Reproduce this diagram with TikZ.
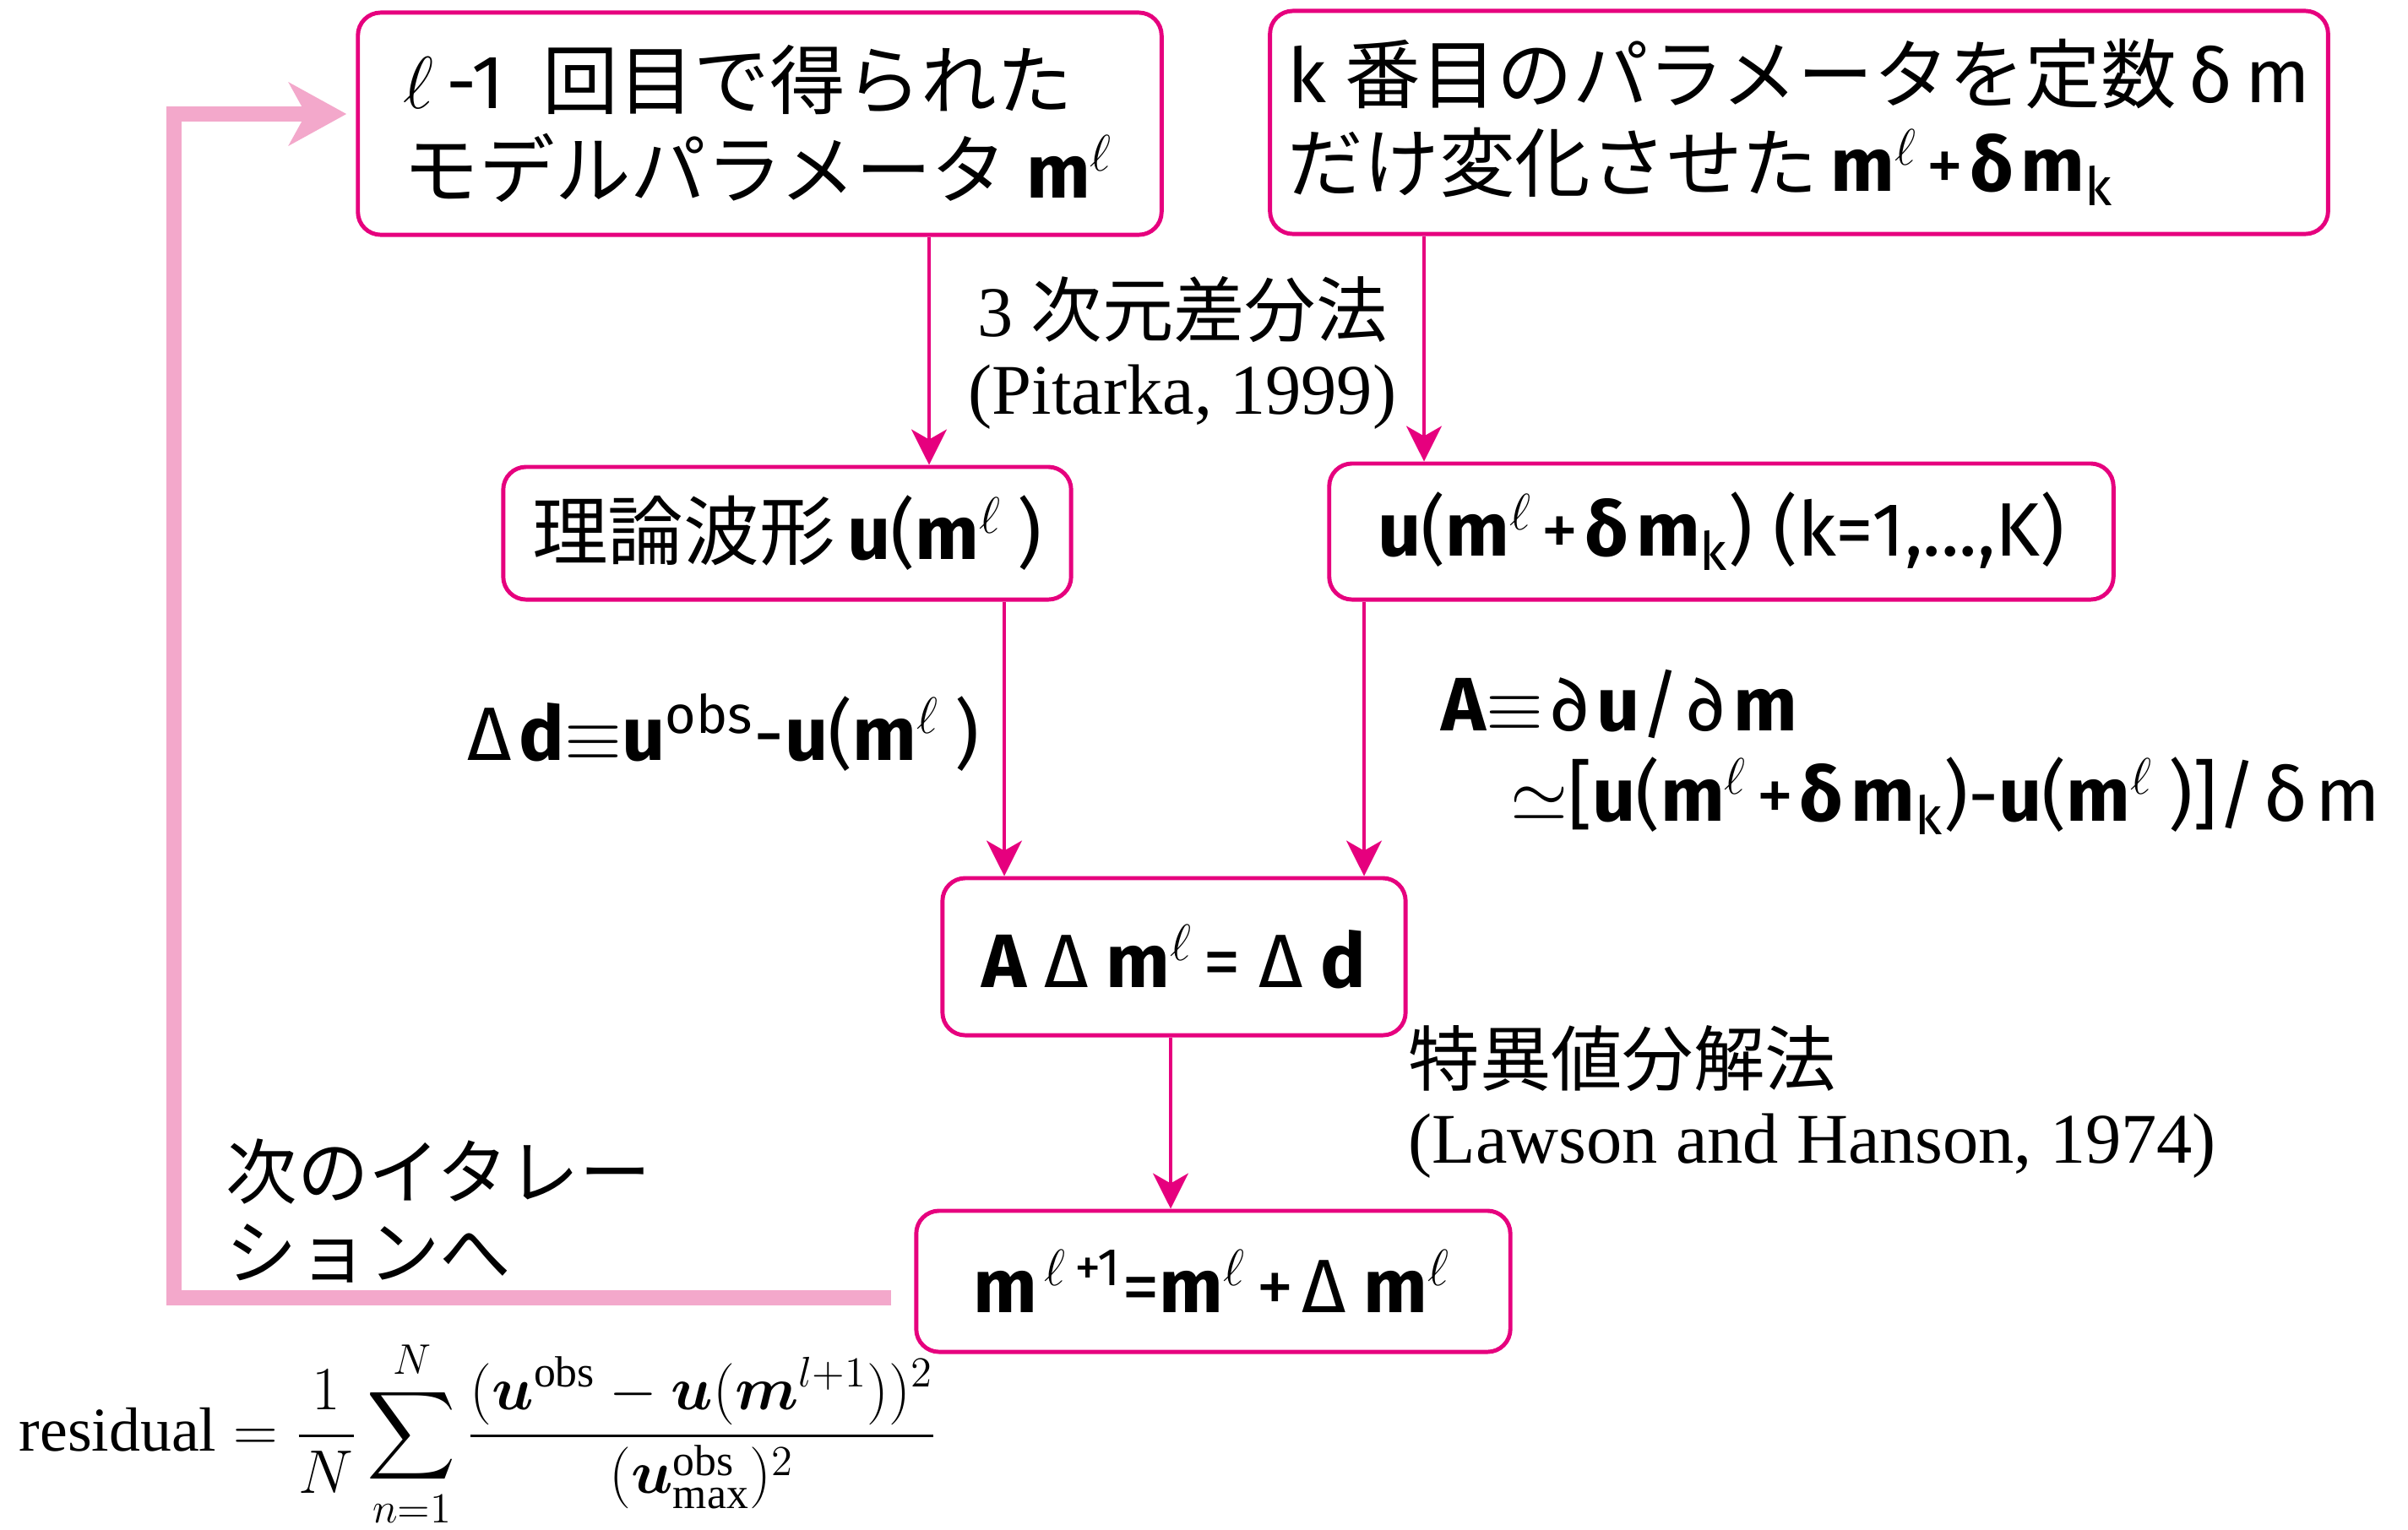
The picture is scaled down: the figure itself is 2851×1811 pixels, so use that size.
\documentclass[tikz,border=0pt]{standalone}
\usepackage{amsmath}
\usepackage{bm}
\usepackage{fontspec}
\setmainfont{Liberation Serif}
\newfontfamily\jp{Noto Sans CJK JP}
\newfontfamily\sa{Fira Sans}
\usetikzlibrary{arrows.meta}
\definecolor{mag}{RGB}{230,0,126}
\definecolor{fbpink}{RGB}{243,168,203}
\newcommand\Bm{{\sa\bfseries m}}
\newcommand\Bu{{\sa\bfseries u}}
\newcommand\Bd{{\sa\bfseries d}}
\newcommand\BA{{\sa\bfseries A}}
\newcommand\Bdel{{\sa\bfseries δ}}
\newcommand\Ls{${}^{\ell}$\kern1pt}
\newcommand\Pl{\kern2pt{\sa +}\kern2pt}
\newcommand\gp{\kern2.5pt}
\newcommand\gq{\kern6pt}
\tikzset{
  box/.style={draw=mag, line width=1.4pt, rounded corners=0.27cm, align=left,
    font=\fontsize{25.5}{30}\selectfont, inner sep=0pt},
  arr/.style={draw=mag, line width=0.9pt, -{Stealth[length=0.42cm, width=0.42cm, inset=0.12cm]}},
  fb/.style={draw=fbpink, line width=5.1pt, -{Stealth[length=0.68cm, width=0.74cm, inset=0.2cm]}},
  serif/.style={font=\fontsize{24}{26}\selectfont, inner sep=0pt},
  mlab/.style={font=\fontsize{25.5}{30}\selectfont\sa, inner sep=0pt}
}
\begin{document}
\begin{tikzpicture}[x=0.01cm, y=-0.01cm]
\useasboundingbox[fill=white] (0,0) rectangle (2851,1811);
% boxes
\node[box, minimum width=9.51cm, minimum height=2.63cm] (B1) at (899.5,146.5)
  {$\ell$\,{\sa -1}\ \ {\jp 回目で得られた}\\{\jp モデルパラメータ}\ \Bm\Ls};
\node[box, minimum width=12.52cm, minimum height=2.64cm] (B2) at (2130,145)
  {{\sa k}\ {\jp 番目のパラメータを定数}\,{\sa δ\,m}\\{\jp だけ変化させた}\,\Bm\Ls\Pl\Bdel\gp\Bm\textsubscript{\sa k}};
\node[box, minimum width=6.72cm, minimum height=1.57cm] (B3) at (932,631.5)
  {{\jp 理論波形}\,\Bu{\sa (}\Bm\Ls{\sa\,)}};
\node[box, minimum width=9.28cm, minimum height=1.61cm] (B4) at (2038,629.5)
  {\Bu{\sa (}\Bm\Ls\Pl\Bdel\gp\Bm\textsubscript{\sa k}{\sa )\ (k=1,...,K)}};
\node[box, minimum width=5.48cm, minimum height=1.86cm] (B5) at (1390,1133)
  {\BA\gq{\sa Δ}\gq\Bm\Ls\gp{\sa =}\gq{\sa Δ}\gq\Bd};
\node[box, minimum width=7.03cm, minimum height=1.67cm] (B6) at (1436.5,1517.5)
  {\Bm\gp\textsuperscript{$\ell$\,{\sa +1}}{\sa =}\Bm\Ls\gp{\sa +}\gp{\sa Δ}\gq\Bm\Ls};
% arrows
\coordinate (x1) at (1100,0);
\coordinate (x2) at (1686,0);
\coordinate (x3) at (1189,0);
\coordinate (x4) at (1615,0);
\coordinate (x5) at (1386,0);
\draw[arr] (B1.south -| x1) -- (B3.north -| x1);
\draw[arr] (B2.south -| x2) -- (B4.north -| x2);
\draw[arr] (B3.south -| x3) -- (B5.north -| x3);
\draw[arr] (B4.south -| x4) -- (B5.north -| x4);
\draw[arr] (B5.south -| x5) -- (B6.north -| x5);
% feedback
\coordinate (fbc) at (206,800);
\draw[fb] ([xshift=-0.27cm, yshift=-0.195cm]B6.west) -| (fbc) |- ([xshift=-0.11cm, yshift=0.115cm]B1.west);
% labels
\node[serif, align=center] (L1) at (1400,418) {3\ {\jp 次元差分法}\\(Pitarka, 1999)};
\node[mlab, anchor=base west] (L2) at (553,900)
  {Δ\gp\Bd$\equiv$\Bu\textsuperscript{obs}-\Bu(\Bm\Ls\,)};
\node[mlab, anchor=base west] (L3) at (1706,865)
  {\BA$\equiv$\gp∂\gp\Bu/\gp∂\gp\Bm};
\node[mlab, anchor=base west] (L4) at (1788,972)
  {$\simeq$[\Bu(\Bm\Ls\Pl\Bdel\gp\Bm\textsubscript{k})-\Bu(\Bm\Ls\,)]/\gp δ\gp m};
\node[serif, align=left, anchor=west] (L5) at (1667,1305)
  {{\jp 特異値分解法}\\(Lawson and Hanson, 1974)};
\node[serif, align=left, anchor=west, font=\fontsize{24}{27}\selectfont\jp] (L6) at (267,1434)
  {次のイタレー\\ションへ};
\node[inner sep=0pt, anchor=west, font=\fontsize{21}{25}\selectfont] (F) at (22,1698)
  {$\displaystyle \mathrm{residual}=\frac{1}{N}\sum_{n=1}^{N}\frac{(\bm{u}^{\mathrm{obs}}-\bm{u}(\bm{m}^{l+1}))^2}{(\bm{u}^{\mathrm{obs}}_{\max})^2}$};
\end{tikzpicture}
\end{document}
